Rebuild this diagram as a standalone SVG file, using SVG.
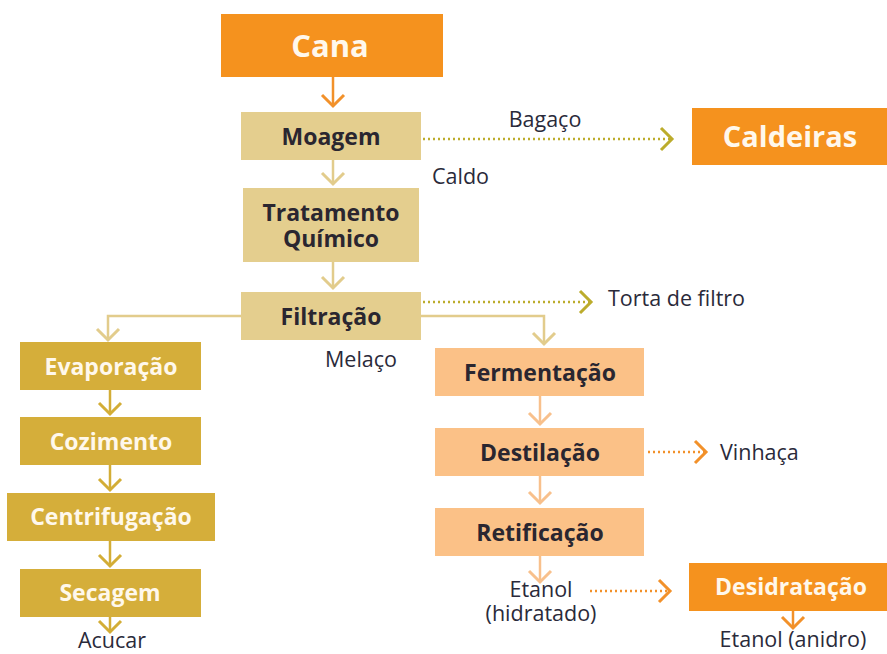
<svg xmlns="http://www.w3.org/2000/svg" width="887" height="654" viewBox="0 0 887 654">
<defs>
<style>
.lbl{font-family:"Open Sans","Noto Sans","Liberation Sans",sans-serif;font-weight:700;font-size:23px;text-anchor:middle}
.dk{fill:#2a2630}
.wh{fill:#fff8ec}
.plain{font-family:"Open Sans","Noto Sans","Liberation Sans",sans-serif;font-size:21.5px;fill:#2a2a3a}
.ln{fill:none;stroke-width:2.5}
.dot{fill:none;stroke-width:2.5;stroke-dasharray:2 3}
</style>
<marker id="mO" markerUnits="userSpaceOnUse" markerWidth="16" markerHeight="26" refX="13" refY="13" orient="auto" overflow="visible"><path d="M2,2 L13,13 L2,24" fill="none" stroke="#f2912a" stroke-width="3"/></marker>
<marker id="mT" markerUnits="userSpaceOnUse" markerWidth="16" markerHeight="26" refX="13" refY="13" orient="auto" overflow="visible"><path d="M2,2 L13,13 L2,24" fill="none" stroke="#e2cc8c" stroke-width="3"/></marker>
<marker id="mG" markerUnits="userSpaceOnUse" markerWidth="16" markerHeight="26" refX="13" refY="13" orient="auto" overflow="visible"><path d="M2,2 L13,13 L2,24" fill="none" stroke="#d3ad36" stroke-width="3"/></marker>
<marker id="mL" markerUnits="userSpaceOnUse" markerWidth="16" markerHeight="26" refX="13" refY="13" orient="auto" overflow="visible"><path d="M2,2 L13,13 L2,24" fill="none" stroke="#f8c08c" stroke-width="3"/></marker>
<marker id="mV" markerUnits="userSpaceOnUse" markerWidth="16" markerHeight="26" refX="13" refY="13" orient="auto" overflow="visible"><path d="M2,2 L13,13 L2,24" fill="none" stroke="#bcac2c" stroke-width="3"/></marker>
</defs>
<rect width="887" height="654" fill="#ffffff"/>
<g id="connectors">
<path class="ln" stroke="#f2912a" d="M333,77 V106" marker-end="url(#mO)"/>
<path class="ln" stroke="#e2cc8c" d="M333,160 V184" marker-end="url(#mT)"/>
<path class="ln" stroke="#e2cc8c" d="M333,262 V288" marker-end="url(#mT)"/>
<path class="ln" stroke="#e2cc8c" d="M241,316 H108 V340" marker-end="url(#mT)"/>
<path class="ln" stroke="#e2cc8c" d="M421,316 H544 V344" marker-end="url(#mT)"/>
<path class="ln" stroke="#d3ad36" d="M110,390 V414" marker-end="url(#mG)"/>
<path class="ln" stroke="#d3ad36" d="M110,465 V490" marker-end="url(#mG)"/>
<path class="ln" stroke="#d3ad36" d="M110,541 V566" marker-end="url(#mG)"/>
<path class="ln" stroke="#d3ad36" d="M110,617 V632" marker-end="url(#mG)"/>
<path class="ln" stroke="#f8c08c" d="M540,396 V424" marker-end="url(#mL)"/>
<path class="ln" stroke="#f8c08c" d="M540,476 V503" marker-end="url(#mL)"/>
<path class="ln" stroke="#f8c08c" d="M540,556 V582" marker-end="url(#mL)"/>
<path class="ln" stroke="#f2912a" d="M793,611 V628" marker-end="url(#mO)"/>
<path class="dot" stroke="#bcac2c" d="M423,139 H672" marker-end="url(#mV)"/>
<path class="dot" stroke="#bcac2c" d="M423,302 H591" marker-end="url(#mV)"/>
<path class="dot" stroke="#f2912a" d="M648,452 H706" marker-end="url(#mO)"/>
<path class="dot" stroke="#f2912a" d="M590,591 H670" marker-end="url(#mO)"/>
</g>
<g id="cana"><rect x="221" y="14" width="222" height="63" fill="#f5921e"/><text class="lbl wh" x="330" y="57" style="font-size:31px">Cana</text></g>
<g id="moagem"><rect x="241" y="112" width="180" height="48" fill="#e4ce8e"/><text class="lbl dk" x="331" y="145">Moagem</text></g>
<g id="caldeiras"><rect x="692" y="108" width="195" height="57" fill="#f5921e"/><text class="lbl wh" x="790" y="147" style="font-size:29px">Caldeiras</text></g>
<g id="tratamento"><rect x="243" y="188" width="176" height="74" fill="#e4ce8e"/><text class="lbl dk" x="331" y="221">Tratamento<tspan x="331" dy="26">Químico</tspan></text></g>
<g id="filtracao"><rect x="241" y="292" width="180" height="48" fill="#e4ce8e"/><text class="lbl dk" x="331" y="325">Filtração</text></g>
<g id="evaporacao"><rect x="20" y="342" width="181" height="48" fill="#d5ae3a"/><text class="lbl wh" x="111" y="375">Evaporação</text></g>
<g id="cozimento"><rect x="20" y="417" width="181" height="48" fill="#d5ae3a"/><text class="lbl wh" x="111" y="450">Cozimento</text></g>
<g id="centrifugacao"><rect x="7" y="493" width="208" height="48" fill="#d5ae3a"/><text class="lbl wh" x="111" y="525">Centrifugação</text></g>
<g id="secagem"><rect x="20" y="569" width="181" height="48" fill="#d5ae3a"/><text class="lbl wh" x="110" y="601">Secagem</text></g>
<g id="fermentacao"><rect x="435" y="348" width="209" height="48" fill="#fbc187"/><text class="lbl dk" x="540" y="381">Fermentação</text></g>
<g id="destilacao"><rect x="435" y="428" width="209" height="48" fill="#fbc187"/><text class="lbl dk" x="540" y="461">Destilação</text></g>
<g id="retificacao"><rect x="435" y="508" width="209" height="48" fill="#fbc187"/><text class="lbl dk" x="540" y="541">Retificação</text></g>
<g id="desidratacao"><rect x="689" y="563" width="198" height="48" fill="#f5921e"/><text class="lbl wh" x="791" y="595">Desidratação</text></g>
<g id="labels">
<text class="plain" x="545" y="127" text-anchor="middle">Bagaço</text>
<text class="plain" x="432" y="184">Caldo</text>
<text class="plain" x="608" y="306">Torta de filtro</text>
<text class="plain" x="325" y="367">Melaço</text>
<text class="plain" x="720" y="460">Vinhaça</text>
<text class="plain" x="541" y="597" text-anchor="middle">Etanol<tspan x="541" dy="24">(hidratado)</tspan></text>
<text class="plain" x="112" y="648" text-anchor="middle">Acucar</text>
<text class="plain" x="793" y="647" text-anchor="middle">Etanol (anidro)</text>
</g>
</svg>
